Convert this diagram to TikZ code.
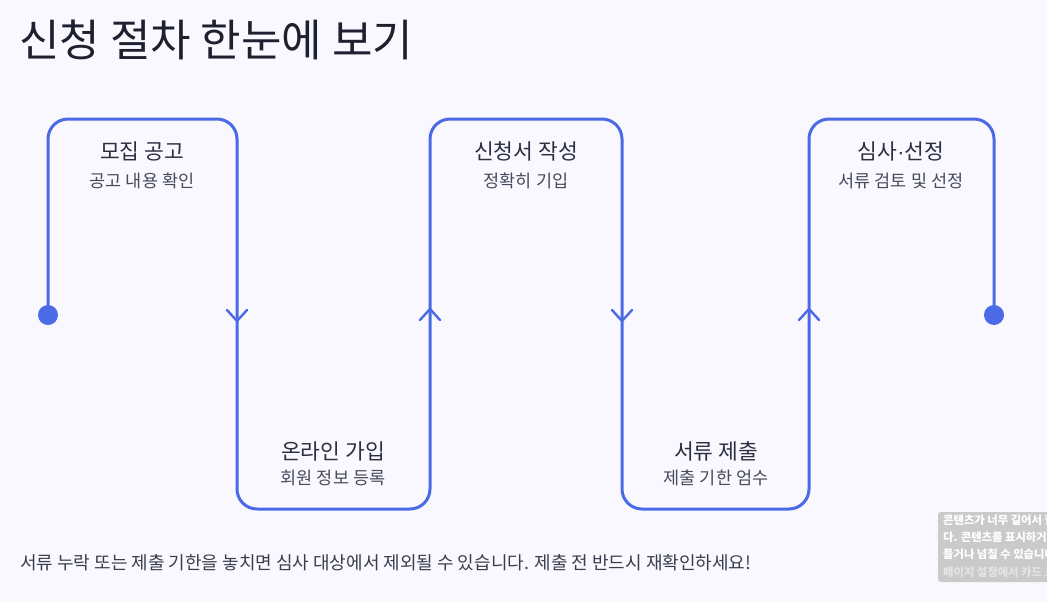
\documentclass[tikz,border=0pt]{standalone}
\usepackage{fontspec}
\setmainfont{Noto Sans CJK KR}
\newfontfamily\kr{Noto Sans CJK KR}
\newfontfamily\latinsans{Liberation Sans}
\usetikzlibrary{calc}
\definecolor{bg}{HTML}{F8F8FE}
\definecolor{flow}{HTML}{4B6AE6}
\definecolor{ttl}{HTML}{1E2030}
\definecolor{stt}{HTML}{2C2F42}
\definecolor{sub}{HTML}{474A5C}
\definecolor{note}{HTML}{3A3D4E}
\tikzset{
  flowline/.style={draw=flow, line width=3pt, rounded corners=20pt},
  chev/.style={draw=flow, line width=2.4pt, line cap=round, line join=round},
  enddot/.style={circle, fill=flow, inner sep=0pt, minimum size=20pt},
  steptitle/.style={font=\kr\fontsize{21.5}{24}\selectfont, text=stt, inner sep=0pt},
  stepsub/.style={font=\kr\fontsize{17.5}{20}\selectfont, text=sub, inner sep=0pt},
  warntext/.style={anchor=west, font=\kr\bfseries\fontsize{11.3}{13}\selectfont, text=white, inner sep=0pt},
}
\begin{document}
\begin{tikzpicture}[x=1pt,y=-1pt]
\clip (0,0) rectangle (1047,602);
\fill[bg] (0,0) rectangle (1047,602);
% title
\node[anchor=west, font=\kr\fontsize{44}{52}\selectfont, text=ttl, inner sep=0pt] (title) at (19,40) {신청 절차 한눈에 보기};
% path coordinates
\coordinate (s) at (48,315);
\coordinate (t1a) at (48,119);  \coordinate (t1b) at (237,119);
\coordinate (b1a) at (237,509); \coordinate (b1b) at (430,509);
\coordinate (t2a) at (430,119); \coordinate (t2b) at (622,119);
\coordinate (b2a) at (622,509); \coordinate (b2b) at (809,509);
\coordinate (t3a) at (809,119); \coordinate (t3b) at (994,119);
\coordinate (e) at (994,315);
\draw[flowline] (s) -- (t1a) -- (t1b) -- (b1a) -- (b1b) -- (t2a) -- (t2b) -- (b2a) -- (b2b) -- (t3a) -- (t3b) -- (e);
\node[enddot] (startdot) at (s) {};
\node[enddot] (enddot) at (e) {};
% chevrons
\coordinate (c1) at (237,321);
\coordinate (c2) at (430,309);
\coordinate (c3) at (622,321);
\coordinate (c4) at (809,309);
\draw[chev] ($(c1)+(-10,-11)$) -- (c1) -- ($(c1)+(10,-11)$);
\draw[chev] ($(c2)+(-10,11)$) -- (c2) -- ($(c2)+(10,11)$);
\draw[chev] ($(c3)+(-10,-11)$) -- (c3) -- ($(c3)+(10,-11)$);
\draw[chev] ($(c4)+(-10,11)$) -- (c4) -- ($(c4)+(10,11)$);
% step labels
\node[steptitle] (n1) at (142,151) {모집 공고};
\node[stepsub] (n1s) at (142,181) {공고 내용 확인};
\node[steptitle] (n2) at (333,451) {온라인 가입};
\node[stepsub] (n2s) at (333,478) {회원 정보 등록};
\node[steptitle] (n3) at (526,151) {신청서 작성};
\node[stepsub] (n3s) at (526,181) {정확히 기입};
\node[steptitle] (n4) at (716,451) {서류 제출};
\node[stepsub] (n4s) at (716,478) {제출 기한 엄수};
\node[steptitle] (n5) at (901,151) {심사{\latinsans·}선정};
\node[stepsub] (n5s) at (901,181) {서류 검토 및 선정};
% footer note
\node[anchor=west, font=\kr\fontsize{18}{22}\selectfont, text=note, inner sep=0pt] (foot) at (20,563) {서류 누락 또는 제출 기한을 놓치면 심사 대상에서 제외될 수 있습니다. 제출 전 반드시 재확인하세요!};
% overflow warning box (cut by the right edge, as in the reference)
\fill[gray!45, opacity=0.9, rounded corners=3pt] (938,512) rectangle (1060,582);
\node[warntext] (warn1) at (943,520) {콘텐츠가 너무 길어서 잘};
\node[warntext] (warn2) at (943,537) {다. 콘텐츠를 표시하거나};
\node[warntext] (warn3) at (943,554) {들거나 넘칠 수 있습니다.};
\node[warntext, opacity=0.5] (warn4) at (943,572) {페이지 설정에서 카드 크기};
\end{tikzpicture}
\end{document}
